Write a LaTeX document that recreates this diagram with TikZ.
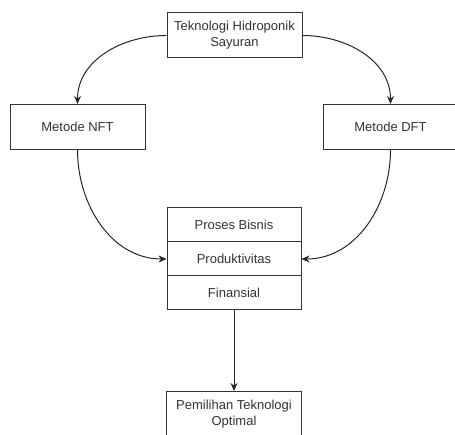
\documentclass[tikz,border=0pt]{standalone}
\usepackage{fontspec}
\setmainfont{Liberation Sans}
\usepackage{tikz}
\usetikzlibrary{arrows.meta,positioning}

\begin{document}
\begin{tikzpicture}[x=1pt, y=-1pt,
    box/.style={draw=black!80, line width=1pt, fill=white, text=black!80,
        minimum width=135pt, minimum height=45pt, inner sep=0pt, align=center,
        font=\fontsize{13}{16}\selectfont},
    cell/.style={box, minimum width=134pt, minimum height=34pt},
    link/.style={draw=black!85, line width=1pt, -{Stealth[length=8pt,width=7pt]}}]
    \useasboundingbox (0,0) rectangle (455,435);
    \clip (0,0) rectangle (455,435);

    % top and the two methods
    \node[box] (tek) at (234.5,35.5) {Teknologi Hidroponik\\Sayuran};
    \node[box] (nft) at (77.5,127) {Metode NFT};
    \node[box] (dft) at (390.5,127) {Metode DFT};

    % criteria stack
    \node[cell] (proses) at (234,225) {Proses Bisnis};
    \node[cell, below=-1pt of proses] (produk) {Produktivitas};
    \node[cell, below=-1pt of produk] (finans) {Finansial};

    % result
    \node[box] (pilih) at (234,414) {Pemilihan Teknologi\\Optimal};

    \draw[link] (tek.west) to[out=180, in=90] (nft.north);
    \draw[link] (tek.east) to[out=0, in=90] (dft.north);
    \draw[link] (nft.south) to[out=-90, in=180] (produk.west);
    \draw[link] (dft.south) to[out=-90, in=0] (produk.east);
    \draw[link] (finans.south) -- (pilih.north);
\end{tikzpicture}
\end{document}
